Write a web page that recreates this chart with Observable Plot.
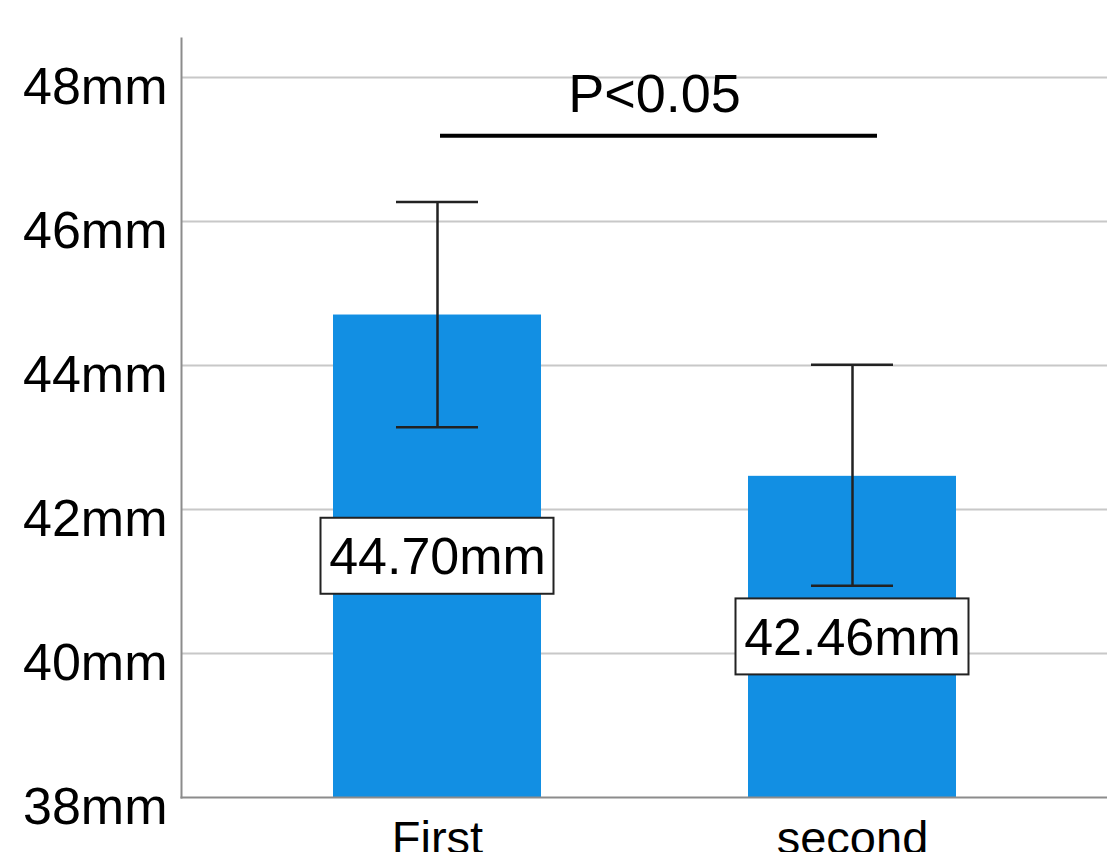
<!DOCTYPE html>
<html>
<head>
<meta charset="utf-8">
<script src="https://cdn.jsdelivr.net/npm/d3@7"></script>
<script src="https://cdn.jsdelivr.net/npm/@observablehq/plot@0.6"></script>
<style>
  html, body { margin: 0; padding: 0; background: #fff; }
  #chart svg { display: block; }
</style>
</head>
<body>
<div id="chart"></div>
<script>
// Data
const categories = ["First", "second"];
const means = [44.70, 42.46];
const ciLow = [43.14, 40.94];
const ciHigh = [46.27, 44.01];
const valueLabels = ["44.70mm", "42.46mm"];
const yTicks = [38, 40, 42, 44, 46, 48];
const yBase = 38;
const sigLevel = [47.19];
const sigText = ["P<0.05"];

const rows = categories.map((c, i) => ({
  cat: c, mean: means[i], lo: ciLow[i], hi: ciHigh[i],
  label: valueLabels[i], mid: (yBase + means[i]) / 2
}));
const sig = sigLevel.map((v, i) => ({y: v, from: categories[0], to: categories[1], text: sigText[i]}));

const blue = "#128fe3";
const ink = "#222";

const chart = Plot.plot({
  width: 1107,
  height: 852,
  marginLeft: 181,
  marginRight: 0,
  marginTop: 38,
  marginBottom: 55,
  style: {fontFamily: "'Liberation Sans', Arial, sans-serif", color: "#000", background: "#fff"},
  x: {domain: categories, paddingInner: 0.5, paddingOuter: 0.363, axis: null},
  y: {domain: [38, 48.54], axis: null},
  marks: [
    Plot.gridY(yTicks.slice(1), {stroke: "#c8c8c8", strokeOpacity: 1, strokeWidth: 2}),
    Plot.barY(rows, {x: "cat", y1: yBase, y2: "mean", fill: blue}),
    Plot.ruleX(rows, {x: "cat", y1: "lo", y2: "hi", stroke: ink, strokeWidth: 2.5}),
    Plot.tickY(rows, {x: "cat", y: "hi", stroke: ink, strokeWidth: 2.5, insetLeft: 63, insetRight: 63}),
    Plot.tickY(rows, {x: "cat", y: "lo", stroke: ink, strokeWidth: 2.5, insetLeft: 63, insetRight: 63}),
    Plot.barY(rows, {x: "cat", y1: "mid", y2: "mid", fill: "#fff", stroke: ink, strokeWidth: 2,
      insetTop: -38, insetBottom: -38, insetLeft: -12.5, insetRight: -12.5}),
    Plot.text(rows, {x: "cat", y: "mid", text: "label", fontSize: 52, fill: "#000", dy: 1}),
    Plot.ruleY(sig, {y: "y", x1: "from", x2: "to", stroke: "#000", strokeWidth: 4, insetLeft: 107, insetRight: 79}),
    Plot.text(sig, {y: "y", text: "text", fontSize: 54, fill: "#000", dx: 10, dy: -41}),
    Plot.frame({anchor: "left", stroke: "#8c8c8c", strokeWidth: 2}),
    Plot.frame({anchor: "bottom", stroke: "#8c8c8c", strokeWidth: 2}),
    Plot.axisY({ticks: yTicks, tickFormat: d => d + "mm", tickSize: 0, tickPadding: 14,
      fontSize: 52, dy: 10, label: null, fill: "#000"}),
    Plot.axisX({tickSize: 0, tickPadding: 23, fontSize: 47, label: null, fill: "#000"})
  ]
});
document.getElementById("chart").appendChild(chart);
</script>
</body>
</html>
